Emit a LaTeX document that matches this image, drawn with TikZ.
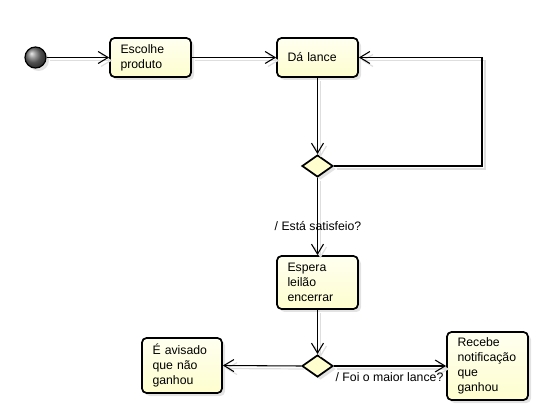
\documentclass[tikz,border=0pt]{standalone}
\usepackage{fontspec}
\setmainfont{Liberation Sans}
\usetikzlibrary{arrows.meta,shapes.geometric,shadows}
\definecolor{boxfill}{HTML}{FEFECE}
\tikzset{
  base/.style={font=\fontsize{9.2pt}{11.25pt}\selectfont},
  act/.style={base, draw=black, line width=1.3pt, rounded corners=3.4pt,
    top color=white!70!boxfill, bottom color=boxfill,
    drop shadow={opacity=0.22, shadow xshift=2.25pt, shadow yshift=-2.25pt},
    minimum width=60.75pt, text width=45pt, align=left, inner xsep=7.5pt, inner ysep=0pt},
  decis/.style={diamond, draw=black, line width=1.3pt, fill=boxfill, aspect=1.41,
    minimum width=23.25pt, minimum height=16.5pt, inner sep=0pt,
    drop shadow={opacity=0.22, shadow xshift=2.25pt, shadow yshift=-2.25pt}},
  startnode/.style={circle, draw=black, line width=0.9pt, shading=ball, ball color=black!55,
    minimum size=15.75pt, inner sep=0pt,
    drop shadow={opacity=0.22, shadow xshift=2.25pt, shadow yshift=-2.25pt}},
  conn/.style={draw=black, line width=0.8pt, -{Straight Barb[length=7.5pt, width=9pt, line width=0.8pt]}},
  connshadow/.style={draw=black!13, line width=0.9pt, -{Straight Barb[length=7.5pt, width=9pt, line width=0.9pt]}},
  lbl/.style={base, inner sep=0pt}
}
\begin{document}
\begin{tikzpicture}[x=0.75pt, y=-0.75pt]
\useasboundingbox (0,0) rectangle (557,420);
\node[startnode] (start) at (35.5,57.5) {};
\node[act, minimum height=29.25pt] (esc) at (150.5,57.5) {Escolhe\\produto};
\node[act, minimum height=29.25pt] (da) at (317.5,57.5) {Dá lance};
\node[decis] (d1) at (317.5,166) {};
\node[act, minimum height=39.75pt] (esp) at (317.5,282.5) {Espera\\leilão\\encerrar};
\node[decis] (d2) at (317.5,366) {};
\node[act, minimum width=60pt, text width=44.25pt, minimum height=41.25pt] (avis) at (182,365.5) {É avisado\\que não\\ganhou};
\node[act, minimum height=51pt] (rec) at (487.5,366) {Recebe\\notificação\\que\\ganhou};
\coordinate (lb) at (482,166);
\coordinate (lt) at (482,57.5);

\begin{scope}[transform canvas={shift={(2.25pt,-2.25pt)}}]
\draw[connshadow] (start) -- (esc);
\draw[connshadow] (esc) -- (da);
\draw[connshadow] (da) -- (d1);
\draw[connshadow] (d1.east) -- (lb) -- (lt) -- (da.east);
\draw[connshadow] (d1) -- (esp);
\draw[connshadow] (esp) -- (d2);
\draw[connshadow] (d2.west) -- (avis.east);
\draw[connshadow] (d2.east) -- (rec.west);
\end{scope}

\draw[conn] (start) -- (esc);
\draw[conn] (esc) -- (da);
\draw[conn] (da) -- (d1);
\draw[conn] (d1.east) -- (lb) -- (lt) -- (da.east);
\draw[conn] (d1) -- (esp);
\draw[conn] (esp) -- (d2);
\draw[conn] (d2.west) -- (avis.east);
\draw[conn] (d2.east) -- (rec.west);

\node[lbl] (l1) at (318,226) {/ Está satisfeio?};
\node[lbl] (l2) at (389.5,377) {/ Foi o maior lance?};
\end{tikzpicture}
\end{document}
